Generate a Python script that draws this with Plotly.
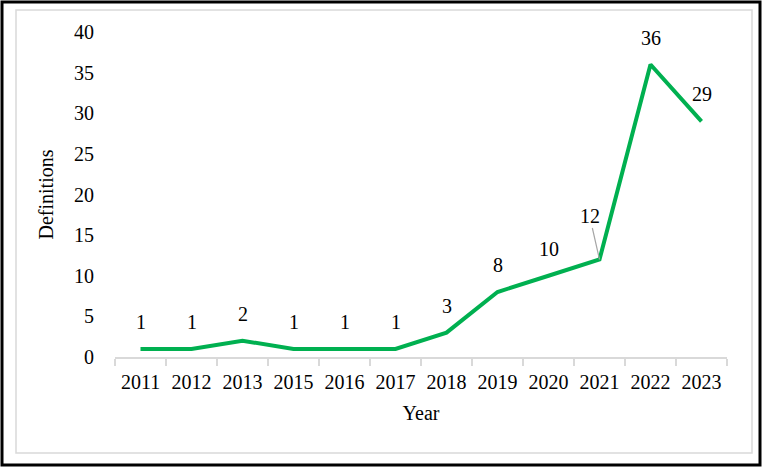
import plotly.graph_objects as go

years = ["2011", "2012", "2013", "2015", "2016", "2017", "2018", "2019",
         "2020", "2021", "2022", "2023"]
definitions = [1, 1, 2, 1, 1, 1, 3, 8, 10, 12, 36, 29]
y_ticks = [0, 5, 10, 15, 20, 25, 30, 35, 40]

GREEN = "#00b050"
AXIS = "#d9d9d9"
FONT = dict(family="Liberation Serif, Times New Roman, serif", size=20, color="#000000")

fig = go.Figure(go.Scatter(
    x=years, y=definitions, mode="lines",
    line=dict(color=GREEN, width=4),
    hoverinfo="x+y",
))

# data labels above each point (category index positions); the 12 gets a
# leader line like the original
for i, v in enumerate(definitions):
    if v == 12:
        fig.add_annotation(x=i, y=v, text=str(v), showarrow=True,
                           arrowhead=0, arrowwidth=1.2, arrowcolor="#a6a6a6",
                           ax=-10, ay=-44, font=FONT, standoff=0)
    else:
        fig.add_annotation(x=i, y=v, text=str(v), showarrow=False,
                           yshift=27, font=FONT)

# outer black frame and inner light border
fig.add_shape(type="rect", xref="paper", yref="paper",
              x0=-113 / 612, x1=1 + 33 / 612, y0=-108 / 325, y1=1 + 30 / 325,
              line=dict(color="#000000", width=3))
fig.add_shape(type="rect", xref="paper", yref="paper",
              x0=-99 / 612, x1=1 + 25 / 612, y0=-96 / 325, y1=1 + 22 / 325,
              line=dict(color="#d9d9d9", width=1.5))

fig.update_layout(
    width=762, height=467,
    margin=dict(l=115, r=35, t=32, b=110),
    paper_bgcolor="white", plot_bgcolor="white",
    font=FONT, showlegend=False,
    xaxis=dict(
        title=dict(text="Year", font=FONT, standoff=14),
        type="category", range=[-0.5, len(years) - 0.5], automargin=False,
        showgrid=False, zeroline=False,
        showline=True, linecolor=AXIS, linewidth=1.5,
        ticks="outside", tickson="boundaries", ticklen=7, tickcolor=AXIS,
        tickwidth=1.5, tickfont=FONT, tickangle=0, ticklabelstandoff=6,
    ),
    yaxis=dict(
        title=dict(text="Definitions", font=FONT, standoff=15),
        range=[0, 40], tickvals=y_ticks, automargin=False,
        showgrid=False, zeroline=False,
        showline=False, ticks="outside", ticklen=16,
        tickcolor="rgba(0,0,0,0)", tickfont=FONT,
    ),
)

# drop the default page margin so the figure sits at the window's corner
fig.write_html("out.html", config={"displayModeBar": False},
               post_script="document.body.style.margin='0';")
